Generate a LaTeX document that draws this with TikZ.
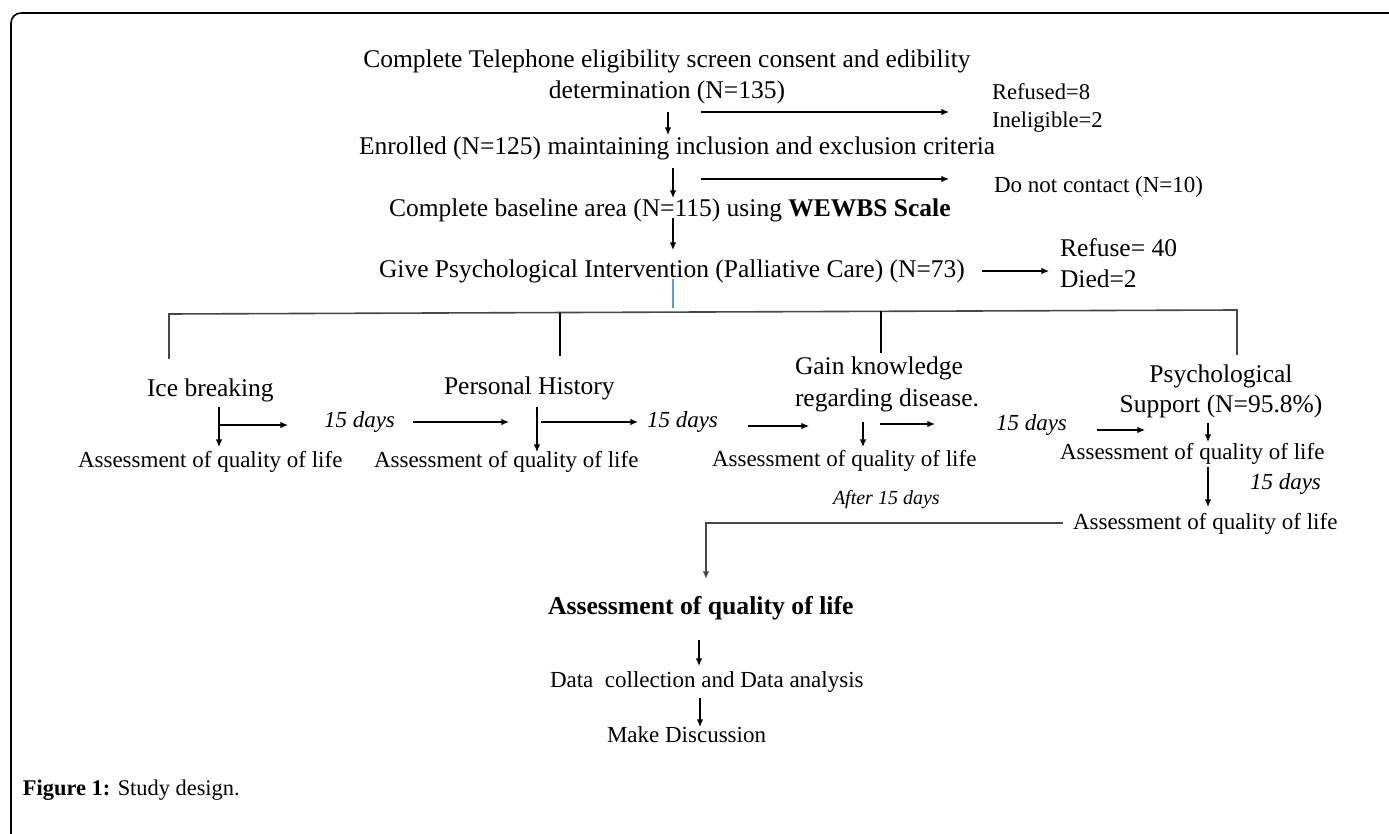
\documentclass[tikz,border=0pt]{standalone}
\usepackage{fontspec}
\setmainfont{Liberation Serif}
\usetikzlibrary{arrows.meta}
\begin{document}
\begin{tikzpicture}[x=0.5pt,y=-0.5pt,
  every node/.style={inner sep=0pt, outer sep=0pt},
  big/.style={font=\fontsize{12.75}{15.5}\selectfont},
  small/.style={font=\fontsize{11.5}{14}\selectfont},
  days/.style={font=\fontsize{11.5}{14}\selectfont\itshape},
  arr/.style={line width=0.65pt, -{Latex[length=3.8pt,width=3.3pt]}},
  ln/.style={line width=0.65pt},
  grayln/.style={line width=0.8pt, draw=black!72},
]
\useasboundingbox (0,0) rectangle (1389,834);
% frame
\draw[line width=0.8pt, rounded corners=5pt] (11,834) -- (11,13) -- (1389,13);

% top part (multi-line nodes are placed by the baseline of their last line)
\node[big, align=center, anchor=base] (t1) at (667,99) {Complete Telephone eligibility screen consent and edibility\\determination (N=135)};
\node[font=\fontsize{11.3}{14}\selectfont, align=left, anchor=base west] (ref) at (992,128) {Refused=8\\Ineligible=2};
\node[big, anchor=base west] (enr) at (359,155) {Enrolled (N=125) maintaining inclusion and exclusion criteria};
\node[small, anchor=base west] (dnc) at (994,193) {Do not contact (N=10)};
\node[big, anchor=base west] (base) at (389,217) {Complete baseline area (N=115) using \textbf{WEWBS Scale}};
\node[big, anchor=base west] (give) at (379,278) {Give Psychological Intervention (Palliative Care) (N=73)};
\node[big, align=left, anchor=base west] (rd) at (1060,288) {Refuse= 40\\Died=2};

\coordinate (a1s) at (668,112); \coordinate (a1e) at (668,135);
\coordinate (a2s) at (701,112); \coordinate (a2e) at (949,112);
\coordinate (a3s) at (673,168); \coordinate (a3e) at (673,198);
\coordinate (a4s) at (701,179); \coordinate (a4e) at (949,179);
\coordinate (a5s) at (673,218); \coordinate (a5e) at (673,250);
\coordinate (a6s) at (982,271); \coordinate (a6e) at (1049,271);
\draw[arr] (a1s) -- (a1e);
\draw[arr] (a2s) -- (a2e);
\draw[arr] (a3s) -- (a3e);
\draw[arr] (a4s) -- (a4e);
\draw[arr] (a5s) -- (a5e);
\draw[arr] (a6s) -- (a6e);

% blue tick and branch
\coordinate (bl1) at (673,279); \coordinate (bl2) at (673,308);
\draw[line width=0.55pt, draw={rgb,255:red,90;green,155;blue,215}] (bl1) -- (bl2);
\coordinate (h1) at (169,314); \coordinate (h4) at (1237,310);
\coordinate (h2) at (560,313); \coordinate (h3) at (881,311);
\coordinate (v1) at (169,359); \coordinate (v2) at (560,356);
\coordinate (v3) at (881,353); \coordinate (v4) at (1237,355);
\draw[grayln] (v1) -- (h1) -- (h4) -- (v4);
\draw[ln] (h2) -- (v2);
\draw[ln] (h3) -- (v3);

% four stages
\node[big, anchor=base west] (ice) at (147,397) {Ice breaking};
\node[big, anchor=base west] (ph) at (444,395) {Personal History};
\node[font=\fontsize{12.75}{16}\selectfont, align=left, anchor=base west] (gain) at (795,407) {Gain knowledge\\regarding disease.};
\node[font=\fontsize{12.75}{15}\selectfont, align=center, anchor=base] (psy) at (1221,413) {Psychological\\Support (N=95.8\%)};

\node[small, anchor=base west] (q1) at (78,468) {Assessment of quality of life};
\node[small, anchor=base west] (q2) at (374,468) {Assessment of quality of life};
\node[small, anchor=base west] (q3) at (712,467) {Assessment of quality of life};
\node[small, anchor=base west] (q4) at (1060,460) {Assessment of quality of life};
\node[small, anchor=base west] (q5) at (1073,530) {Assessment of quality of life};

\node[days, anchor=base west] (d1) at (324,428) {15 days};
\node[days, anchor=base west] (d2) at (647,428) {15 days};
\node[days, anchor=base west] (d3) at (996,431) {15 days};
\node[days, anchor=base west] (d4) at (1250,490) {15 days};
\node[font=\fontsize{10}{12}\selectfont\itshape, anchor=base west] (aft) at (833,505) {After 15 days};

% stage arrows
\coordinate (i1) at (219,407); \coordinate (i2) at (219,447);
\coordinate (i3) at (219,425); \coordinate (i4) at (288,425);
\draw[arr] (i1) -- (i2);
\draw[arr] (i3) -- (i4);
\coordinate (b1s) at (413,422); \coordinate (b1e) at (509,422);
\draw[arr] (b1s) -- (b1e);
\coordinate (p1) at (537,407); \coordinate (p2) at (537,452);
\coordinate (p3) at (541,422); \coordinate (p4) at (638,422);
\draw[arr] (p1) -- (p2);
\draw[arr] (p3) -- (p4);
\coordinate (b2s) at (748,426); \coordinate (b2e) at (809,426);
\draw[arr] (b2s) -- (b2e);
\coordinate (g1) at (863,422); \coordinate (g2) at (863,447);
\coordinate (g3) at (880,424); \coordinate (g4) at (935,424);
\draw[arr] (g1) -- (g2);
\draw[arr] (g3) -- (g4);
\coordinate (b3s) at (1097,430); \coordinate (b3e) at (1145,430);
\draw[arr] (b3s) -- (b3e);
\coordinate (s1) at (1208,423); \coordinate (s2) at (1208,442);
\draw[arr] (s1) -- (s2);
\coordinate (s3) at (1208,467); \coordinate (s4) at (1208,507);
\draw[arr] (s3) -- (s4);

% final part
\coordinate (f1) at (1063,523); \coordinate (f2) at (706,523); \coordinate (f3) at (706,579);
\draw[arr, draw=black!72, line width=0.75pt] (f1) -- (f2) -- (f3);
\node[font=\fontsize{12.85}{15}\selectfont\bfseries, anchor=base west] (fin) at (548,615) {Assessment of quality of life};
\node[small, anchor=base west] (data) at (550,688) {Data\ \ collection and Data analysis};
\node[small, anchor=base west] (disc) at (607,742) {Make Discussion};
\coordinate (k1) at (699,640); \coordinate (k2) at (699,666);
\coordinate (k3) at (700,698); \coordinate (k4) at (700,727);
\draw[arr] (k1) -- (k2);
\draw[arr] (k3) -- (k4);

% caption
\node[font=\fontsize{11.2}{13}\selectfont, anchor=base west] (cap) at (23,795) {\textbf{Figure 1:} Study design.};
\end{tikzpicture}
\end{document}
